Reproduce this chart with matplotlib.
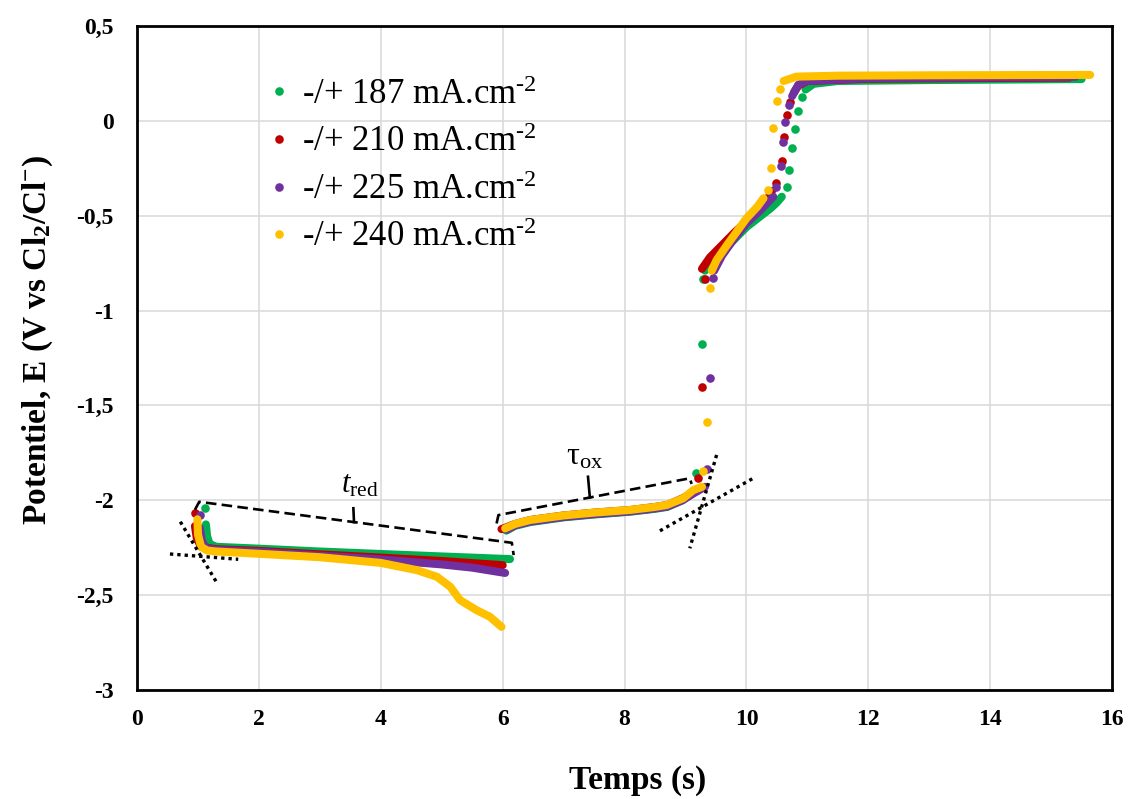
import numpy as np
import matplotlib.pyplot as plt
from matplotlib.ticker import FuncFormatter, MultipleLocator

plt.rcParams['font.family'] = 'Liberation Serif'
plt.rcParams['mathtext.fontset'] = 'custom'
plt.rcParams['mathtext.rm'] = 'Liberation Serif'
plt.rcParams['mathtext.it'] = 'Liberation Serif:italic'
plt.rcParams['mathtext.bf'] = 'Liberation Serif:bold'

nan = np.nan

currents = [187, 210, 225, 240]
colors = ['#00B050', '#C00000', '#7030A0', '#FFC000']

# continuous traces (reduction / oxidation / rise / plateau), split by nan
t187 = [1.13, 1.15, 1.19, 1.3, 2, 3, 4, 5, 6.12, nan,
        6.06, 6.2, 6.45, 7.0, 7.5, 8.1, 8.5, 8.7, 8.95, 9.1, 9.2, nan,
        9.32, 9.45, 9.6, 9.8, 10.0, 10.2, 10.4, 10.5, 10.58, nan,
        10.97, 11.1, 11.5, 13, 15.5]
E187 = [-2.127, -2.19, -2.23, -2.245, -2.255, -2.27, -2.283, -2.296, -2.31, nan,
        -2.16, -2.135, -2.115, -2.09, -2.075, -2.06, -2.045, -2.035, -2.0, -1.965, -1.95, nan,
        -0.79, -0.735, -0.69, -0.625, -0.56, -0.51, -0.46, -0.43, -0.40, nan,
        0.165, 0.195, 0.21, 0.215, 0.22]
t187_pts = [1.12, 9.18, 9.27, 9.29, 10.66, 10.70, 10.75, 10.80, 10.85, 10.91]
E187_pts = [-2.04, -1.858, -1.176, -0.835, -0.35, -0.259, -0.145, -0.043, 0.053, 0.124]

t210 = [0.95, 0.98, 1.05, 1.3, 2, 3, 4, 5, 6.0, nan,
        5.98, 6.2, 6.45, 7.0, 7.5, 8.1, 8.5, 8.7, 8.95, 9.16, nan,
        9.27, 9.4, 9.6, 9.8, 10.0, 10.2, 10.35, 10.42, nan,
        10.78, 10.85, 11.0, 12, 15.3]
E210 = [-2.136, -2.2, -2.245, -2.258, -2.267, -2.285, -2.302, -2.32, -2.342, nan,
        -2.152, -2.125, -2.104, -2.08, -2.065, -2.051, -2.035, -2.025, -1.99, -1.955, nan,
        -0.78, -0.72, -0.655, -0.59, -0.53, -0.47, -0.41, -0.37, nan,
        0.15, 0.185, 0.21, 0.222, 0.228]
t210_pts = [0.95, 9.21, 9.27, 9.32, 10.49, 10.58, 10.62, 10.66, 10.72]
E210_pts = [-2.066, -1.881, -1.401, -0.834, -0.33, -0.21, -0.087, 0.031, 0.101]

t225 = [1.03, 1.06, 1.12, 1.3, 2, 3, 4, 5, 5.5, 6.04, nan,
        6.07, 6.2, 6.45, 7.0, 7.5, 8.1, 8.5, 8.7, 8.95, 9.15, 9.32, nan,
        9.47, 9.6, 9.8, 10.0, 10.2, 10.35, 10.44, nan,
        10.75, 10.85, 11.0, 12, 15.4]
E225 = [-2.146, -2.21, -2.25, -2.262, -2.272, -2.292, -2.312, -2.338, -2.355, -2.383, nan,
        -2.155, -2.132, -2.112, -2.088, -2.073, -2.058, -2.043, -2.033, -2.0, -1.96, -1.929, nan,
        -0.79, -0.71, -0.62, -0.54, -0.48, -0.43, -0.40, nan,
        0.13, 0.19, 0.21, 0.225, 0.232]
t225_pts = [1.04, 9.35, 9.40, 9.45, 10.49, 10.56, 10.60, 10.64, 10.70]
E225_pts = [-2.078, -1.837, -1.357, -0.83, -0.35, -0.24, -0.11, -0.005, 0.085]

t240 = [0.99, 1.0, 1.05, 1.15, 1.3, 2, 3, 3.5, 4.0, 4.59, 4.92, 5.14, 5.30, 5.57, 5.79, 5.98, nan,
        6.04, 6.2, 6.45, 7.0, 7.5, 8.09, 8.5, 8.69, 8.96, 9.13, 9.27, nan,
        9.43, 9.51, 9.68, 10.0, 10.18, 10.28, nan,
        10.61, 10.82, 11.5, 13, 15.64]
E240 = [-2.10, -2.18, -2.245, -2.265, -2.27, -2.282, -2.30, -2.315, -2.33, -2.368, -2.403, -2.456,
        -2.526, -2.579, -2.614, -2.667, nan,
        -2.148, -2.125, -2.104, -2.08, -2.065, -2.051, -2.035, -2.025, -1.99, -1.946, -1.929, nan,
        -0.79, -0.734, -0.655, -0.514, -0.452, -0.408, nan,
        0.21, 0.233, 0.238, 0.24, 0.242]
t240_pts = [9.29, 9.35, 9.40, 10.35, 10.40, 10.44, 10.50, 10.55]
E240_pts = [-1.844, -1.589, -0.883, -0.365, -0.25, -0.04, 0.106, 0.166]

# annotation guides
brace_red_t = [0.95, 1.02, 6.15, 6.18]
brace_red_E = [-2.05, -2.008, -2.224, -2.289]
brace_ox_t = [5.90, 5.93, 9.07, 9.10]
brace_ox_E = [-2.122, -2.078, -1.884, -1.914]
tangents = [([0.54, 1.66], [-2.283, -2.311]),
            ([0.71, 1.31], [-2.113, -2.435]),
            ([9.51, 9.07], [-1.761, -2.253]),
            ([8.58, 10.11], [-2.161, -1.884])]

fig = plt.figure(figsize=(11.28, 7.99), dpi=100)
ax = fig.add_axes([0.1215, 0.1364, 0.8644, 0.8311])

lines_t = [t187, t210, t225, t240]
lines_E = [E187, E210, E225, E240]
pts_t = [t187_pts, t210_pts, t225_pts, t240_pts]
pts_E = [E187_pts, E210_pts, E225_pts, E240_pts]

for i, cur in enumerate(currents):
    ax.plot(lines_t[i], lines_E[i], '-', color=colors[i], lw=5.8,
            solid_capstyle='round', solid_joinstyle='round', zorder=3 + i)
    ax.plot(pts_t[i], pts_E[i], 'o', color=colors[i], ms=6.2, mew=0,
            zorder=3 + i, label='-/+ %d mA.cm$^{\\text{-}2}$' % cur)

# brackets
dash = dict(color='black', lw=1.9, linestyle=(0, (4, 2)), zorder=10)
ax.plot(brace_red_t, brace_red_E, **dash)
ax.plot([3.56, 3.55], [-2.115, -2.042], color='black', lw=1.9, zorder=10)
ax.plot(brace_ox_t, brace_ox_E, **dash)
ax.plot([7.43, 7.40], [-1.985, -1.876], color='black', lw=1.9, zorder=10)

for tt, ee in tangents:
    ax.plot(tt, ee, color='black', lw=2.4, linestyle=(0, (1, 1.2)), zorder=10)

ax.text(3.66, -1.92, r'$t_{\mathrm{red}}$', fontsize=22, ha='center', va='center')
ax.text(7.35, -1.77, r'τ$_{\mathrm{ox}}$', fontsize=23, ha='center', va='center')

ax.set_xlim(0, 16)
ax.set_ylim(-3, 0.5)
ax.xaxis.set_major_locator(MultipleLocator(2))
ax.yaxis.set_major_locator(MultipleLocator(0.5))
ax.yaxis.set_major_formatter(FuncFormatter(lambda v, p: ('%g' % v).replace('.', ',')))
ax.grid(True, color='#D9D9D9', lw=1.1)
ax.set_axisbelow(True)
ax.tick_params(length=0, labelsize=17)
ax.tick_params(axis='x', pad=14)
ax.tick_params(axis='y', pad=17)
for lab in ax.get_xticklabels() + ax.get_yticklabels():
    lab.set_fontweight('bold')
for sp in ax.spines.values():
    sp.set_linewidth(2)
    sp.set_color('black')

ax.set_xlabel('Temps (s)', fontsize=24, fontweight='bold')
ax.set_ylabel(r'Potentiel, E (V vs Cl$_\mathbf{2}$/Cl$^\mathbf{-}$)', fontsize=24,
              fontweight='bold')
ax.xaxis.set_label_coords(0.513, -0.113)
ax.yaxis.set_label_coords(-0.084, 0.527)

ax.legend(loc='upper left', bbox_to_anchor=(0.114, 0.947), frameon=False, fontsize=25,
          handlelength=0.8, handletextpad=0.25, labelspacing=0.42, borderpad=0,
          markerscale=1.0)

fig.savefig('out.png', dpi=100)
